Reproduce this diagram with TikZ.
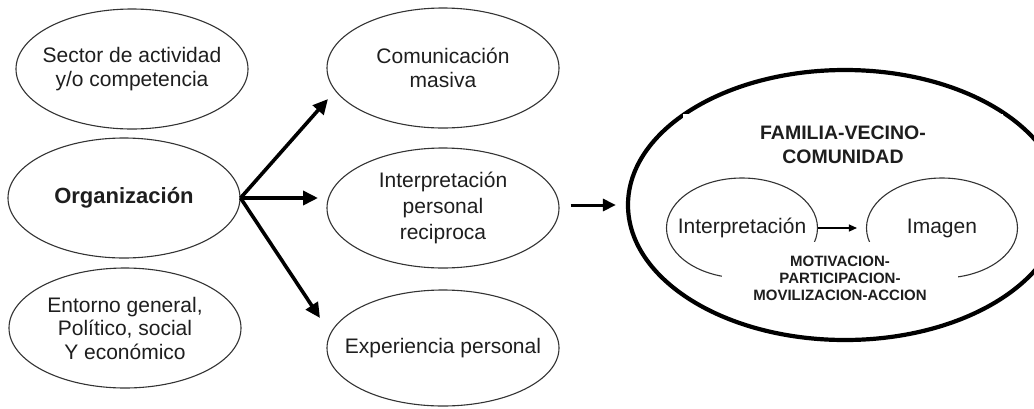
\documentclass[tikz,border=0pt]{standalone}
\usepackage{fontspec}
\setmainfont{Liberation Sans}
\usetikzlibrary{shapes.geometric,arrows.meta}
\definecolor{ink}{HTML}{1E1E1E}
\definecolor{edge}{HTML}{333333}
\tikzset{
  oval/.style={ellipse, draw=edge, line width=1.1pt, inner sep=0pt, minimum width=232pt, minimum height=120pt},
  inoval/.style={ellipse, draw=edge, line width=1.1pt, inner sep=0pt, minimum width=151pt, minimum height=100pt},
  txt/.style={align=center, text=ink, font=\fontsize{21}{24.5}\selectfont, inner sep=0pt},
  boldtxt/.style={align=center, text=ink, font=\fontsize{22}{25}\selectfont\bfseries, inner sep=0pt},
  bigarrow/.style={line width=3.6pt, -{Triangle[length=15pt,width=14pt]}, draw=black},
  thinarrow/.style={line width=1.2pt, -{Triangle[length=8pt,width=7pt]}, draw=black},
}
\begin{document}
\begin{tikzpicture}[x=1pt,y=-1pt]
\useasboundingbox (0,0) rectangle (1034,408);
\clip (0,0) rectangle (1034,408);
\fill[white] (0,0) rectangle (1034,408);

% left column
\node[oval] (sec) at (132,69) {};
\node[txt] at (sec) {Sector de actividad\\ y/o competencia};
\node[oval] (org) at (124,198) {};
\node[boldtxt] at (org) {Organización};
\node[oval] (ent) at (125,328) {};
\node[txt, font=\fontsize{21}{23.5}\selectfont] at (ent) {Entorno general,\\ Político, social\\ Y económico};

% middle column
\node[oval] (com) at (443,68) {};
\node[txt] at (com) {Comunicación\\ masiva};
\node[oval] (ip) at (443,208) {};
\node[txt, font=\fontsize{21}{26}\selectfont] at (ip) {Interpretación\\ personal\\ reciproca};
\node[oval, minimum height=116pt] (exp) at (443,348) {};
\node[txt] at (exp) {Experiencia personal};

% arrows from Organización
\coordinate (a1) at (328,99);
\coordinate (a2) at (318,198);
\coordinate (a3) at (320,318);
\draw[bigarrow] (org.east) -- (a1);
\draw[bigarrow] (org.east) -- (a2);
\draw[bigarrow] (org.east) -- (a3);

% big ellipse
\node[ellipse, draw=black, line width=4.2pt, inner sep=0pt, minimum width=434pt, minimum height=270pt] (big) at (845,205) {};
\fill[white] (683,114) rectangle (1003,170);
\node[boldtxt, font=\fontsize{19.5}{24}\selectfont\bfseries] (fam) at (843,145) {FAMILIA-VECINO-\\ COMUNIDAD};

\draw[line width=3pt, -{Triangle[length=13pt,width=12pt]}, shorten <=11pt, shorten >=10pt] (ip.east |- big.west) -- (big.west);

% inner ellipses
\node[inoval] (ii) at (742,228) {};
\node[inoval] (im) at (942,228) {};
\fill[white] (722,242) rectangle (958,305);
\node[txt] at (ii) {Interpretación};
\node[txt] at (im) {Imagen};
\draw[thinarrow, shorten >=9pt] (ii.east) -- (im.west);
\node[align=center, text=ink, font=\fontsize{15}{17}\selectfont\bfseries, inner sep=0pt] (mot) at (840,278) {MOTIVACION-\\ PARTICIPACION-\\ MOVILIZACION-ACCION};
\end{tikzpicture}
\end{document}
